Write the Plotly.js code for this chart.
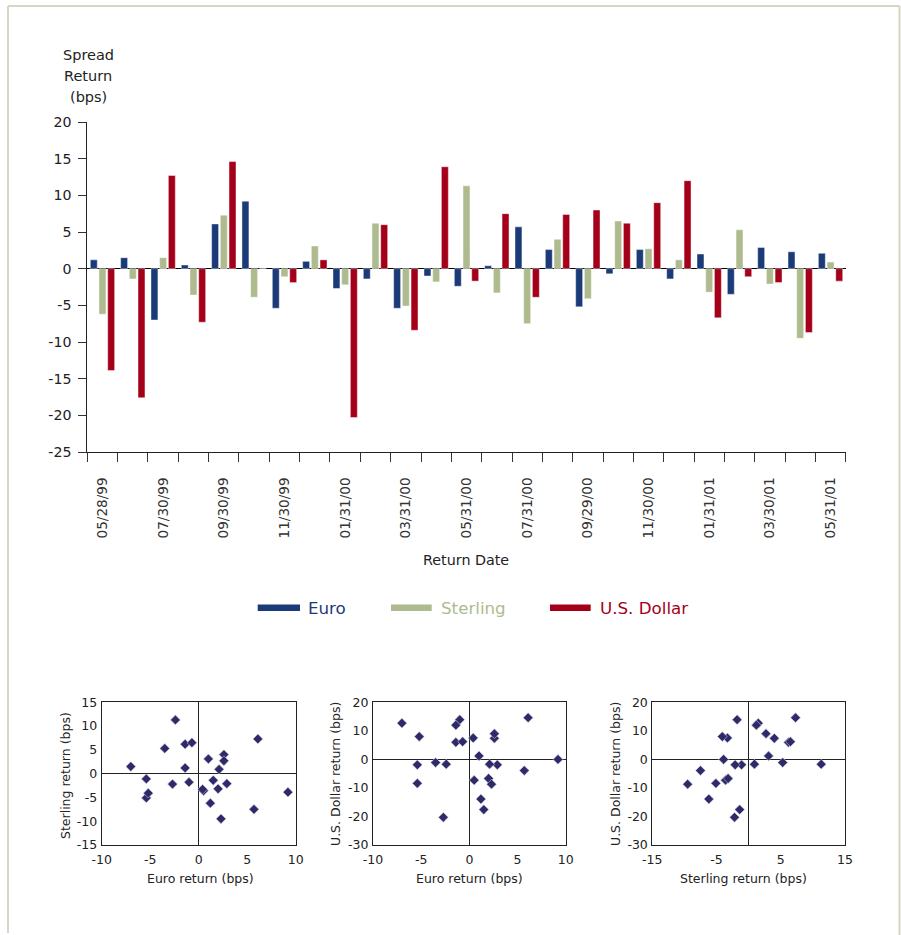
<!DOCTYPE html>
<html>
<head>
<meta charset="utf-8">
<script src="https://cdn.plot.ly/plotly-3.0.1.min.js"></script>
<style>
  html, body { margin: 0; padding: 0; background: #ffffff; }
  #chart { width: 901px; height: 935px; }
</style>
</head>
<body>
<div id="chart"></div>
<script>
// ---- data ----
const returnDates = ['05/28/99','06/30/99','07/30/99','08/31/99','09/30/99','10/29/99','11/30/99','12/31/99',
  '01/31/00','02/29/00','03/31/00','04/28/00','05/31/00','06/30/00','07/31/00','08/31/00','09/29/00','10/31/00',
  '11/30/00','12/29/00','01/31/01','02/28/01','03/30/01','04/30/01','05/31/01'];
const dateTickLabels = ['05/28/99','','07/30/99','','09/30/99','','11/30/99','',
  '01/31/00','','03/31/00','','05/31/00','','07/31/00','','09/29/00','',
  '11/30/00','','01/31/01','','03/30/01','','05/31/01'];
const euro     = [1.2, 1.5, -7.0, 0.5, 6.1, 9.2, -5.4, 1.0, -2.7, -1.4, -5.4, -1.0, -2.4, 0.4, 5.7, 2.6, -5.2, -0.7, 2.6, -1.4, 2.0, -3.5, 2.9, 2.3, 2.1];
const sterling = [-6.2, -1.4, 1.5, -3.6, 7.3, -3.9, -1.1, 3.1, -2.2, 6.2, -5.1, -1.8, 11.3, -3.3, -7.5, 4.0, -4.1, 6.5, 2.7, 1.2, -3.2, 5.3, -2.1, -9.5, 0.9];
const usDollar = [-13.9, -17.6, 12.7, -7.3, 14.6, 0.0, -1.9, 1.2, -20.3, 6.0, -8.4, 13.9, -1.7, 7.5, -3.9, 7.4, 8.0, 6.2, 9.0, 12.0, -6.7, -1.1, -1.9, -8.7, -1.7];
const seriesNames = ['Euro', 'Sterling', 'U.S. Dollar'];
// tick values and their labels (hyphen minus, as in the reference)
const mainYTicks = [20, 15, 10, 5, 0, -5, -10, -15, -20, -25];
const mainYLabels = ['20', '15', '10', '5', '0', '-5', '-10', '-15', '-20', '-25'];
const euroTicks = [-10, -5, 0, 5, 10];
const euroLabels = ['-10', '-5', '0', '5', '10'];
const sterlingYTicks = [15, 10, 5, 0, -5, -10, -15];
const sterlingYLabels = ['15', '10', '5', '0', '-5', '-10', '-15'];
const usdYTicks = [20, 10, 0, -10, -20, -30];
const usdYLabels = ['20', '10', '0', '-10', '-20', '-30'];
const sterlingXTicks = [-15, -5, 5, 15];
const sterlingXLabels = ['-15', '-5', '5', '15'];

// ---- styling ----
const W = 901, H = 935;
const FONT = 'DejaVu Sans, Liberation Sans, sans-serif';
const TXT = '#222222';
const cEuro = '#1b3a78', cSterling = '#adbb8f', cUSD = '#a50019', cDot = '#2e2a6a';
const px = v => v / W;           // pixel -> paper x
const py = v => 1 - v / H;       // pixel -> paper y

function barTrace(name, vals, color) {
  return {
    type: 'bar', name: name, x: returnDates, y: vals,
    xaxis: 'x', yaxis: 'y',
    marker: { color: color, line: { color: 'rgba(255,255,255,0.55)', width: 0.8 } },
    hoverinfo: 'x+y+name'
  };
}
function scatterTrace(xs, ys, xa, ya) {
  return {
    type: 'scatter', mode: 'markers', x: xs, y: ys, xaxis: xa, yaxis: ya,
    marker: { symbol: 'diamond', size: 7.5, color: cDot,
              line: { color: '#c9c9d6', width: 0.6 } },
    showlegend: false
  };
}

const data = [
  barTrace(seriesNames[0], euro, cEuro),
  barTrace(seriesNames[1], sterling, cSterling),
  barTrace(seriesNames[2], usDollar, cUSD),
  scatterTrace(euro, sterling, 'x2', 'y2'),
  scatterTrace(euro, usDollar, 'x3', 'y3'),
  scatterTrace(sterling, usDollar, 'x4', 'y4')
];

const scatterYDomain = [py(845), py(702.3)];
function sAxisX(domain, range, tickvals, ticktext, anchor) {
  return {
    domain: domain, range: range, anchor: anchor, tickvals: tickvals, ticktext: ticktext,
    showline: true, mirror: true, linecolor: '#222', linewidth: 1,
    zeroline: true, zerolinecolor: '#222', zerolinewidth: 1,
    showgrid: false, ticks: '', fixedrange: true,
    tickfont: { family: FONT, size: 12.5, color: TXT }, ticklabelstandoff: 3
  };
}
function sAxisY(range, tickvals, ticktext, anchor) {
  return {
    domain: scatterYDomain, range: range, anchor: anchor, tickvals: tickvals, ticktext: ticktext,
    showline: true, mirror: true, linecolor: '#222', linewidth: 1,
    zeroline: true, zerolinecolor: '#222', zerolinewidth: 1,
    showgrid: false, ticks: '', fixedrange: true,
    tickfont: { family: FONT, size: 12.5, color: TXT }, ticklabelstandoff: 1
  };
}

function ann(text, x, y, opts) {
  return Object.assign({
    text: text, x: px(x), y: py(y), xref: 'paper', yref: 'paper',
    showarrow: false, xanchor: 'center', yanchor: 'middle',
    font: { family: FONT, size: 14.3, color: TXT }
  }, opts || {});
}

const frameColor = '#d6d6c2';
const shapes = [
  { type: 'line', xref: 'paper', yref: 'paper', x0: px(8), x1: px(8), y0: py(933), y1: py(6), line: { color: frameColor, width: 2 } },
  { type: 'line', xref: 'paper', yref: 'paper', x0: px(8), x1: px(899.5), y0: py(6), y1: py(6), line: { color: frameColor, width: 2 } },
  { type: 'line', xref: 'paper', yref: 'paper', x0: px(899.5), x1: px(899.5), y0: py(6), y1: py(935), line: { color: frameColor, width: 2 } },
  // legend swatches
  { type: 'rect', xref: 'paper', yref: 'paper', x0: px(257.7), x1: px(300), y0: py(611), y1: py(604.5), fillcolor: cEuro, line: { width: 0 } },
  { type: 'rect', xref: 'paper', yref: 'paper', x0: px(391), x1: px(431.7), y0: py(611), y1: py(604.5), fillcolor: cSterling, line: { width: 0 } },
  { type: 'rect', xref: 'paper', yref: 'paper', x0: px(550), x1: px(590.7), y0: py(611), y1: py(604.5), fillcolor: cUSD, line: { width: 0 } }
];

const annotations = [
  ann('Spread', 88, 55.5, { font: { family: FONT, size: 14.5, color: TXT } }),
  ann('Return', 88, 76, { font: { family: FONT, size: 14.5, color: TXT } }),
  ann('(bps)', 88, 97, { font: { family: FONT, size: 14.5, color: TXT } }),
  ann('Return Date', 466, 560),
  ann(seriesNames[0], 306, 607.5, { xanchor: 'left', font: { family: FONT, size: 16.7, color: cEuro } }),
  ann(seriesNames[1], 438.5, 607.5, { xanchor: 'left', font: { family: FONT, size: 16.7, color: cSterling } }),
  ann(seriesNames[2], 597.5, 607.5, { xanchor: 'left', font: { family: FONT, size: 16.7, color: cUSD } }),
  ann('Euro return (bps)', 200, 878.5, { font: { family: FONT, size: 12.5, color: TXT } }),
  ann('Euro return (bps)', 469, 878.5, { font: { family: FONT, size: 12.5, color: TXT } }),
  ann('Sterling return (bps)', 743, 878.5, { font: { family: FONT, size: 12.5, color: TXT } }),
  ann('Sterling return (bps)', 65, 776, { textangle: -90, font: { family: FONT, size: 12.5, color: TXT } }),
  ann('U.S. Dollar return (bps)', 335, 774, { textangle: -90, font: { family: FONT, size: 12.5, color: TXT } }),
  ann('U.S. Dollar return (bps)', 615, 774, { textangle: -90, font: { family: FONT, size: 12.5, color: TXT } })
];

const layout = {
  width: W, height: H, autosize: false,
  margin: { l: 0, r: 0, t: 0, b: 0, pad: 0 },
  paper_bgcolor: '#ffffff', plot_bgcolor: 'rgba(0,0,0,0)',
  showlegend: false,
  barmode: 'group', bargap: 0.14, bargroupgap: 0.2,
  font: { family: FONT, color: TXT },
  xaxis: {
    domain: [px(87.3), px(845.7)], anchor: 'y', type: 'category',
    categoryorder: 'array', categoryarray: returnDates,
    tickvals: returnDates, ticktext: dateTickLabels,
    tickson: 'boundaries', ticks: 'outside', ticklen: 9, tickcolor: '#333', tickwidth: 1,
    showline: true, linecolor: '#222', linewidth: 1, showgrid: false, zeroline: false,
    tickangle: -90, tickfont: { family: FONT, size: 13.6, color: '#333' },
    ticklabelstandoff: 19, fixedrange: true
  },
  yaxis: {
    domain: [py(452), py(122)], anchor: 'x', range: [-25, 20],
    tickvals: mainYTicks, ticktext: mainYLabels,
    ticks: 'outside', ticklen: 8, tickcolor: '#333', tickwidth: 1,
    showline: true, linecolor: '#222', linewidth: 1, showgrid: false,
    zeroline: true, zerolinecolor: '#000', zerolinewidth: 1.6,
    tickfont: { family: FONT, size: 14.2, color: TXT }, ticklabelstandoff: 4, fixedrange: true
  },
  xaxis2: sAxisX([px(101.7), px(295.7)], [-10, 10], euroTicks, euroLabels, 'y2'),
  yaxis2: sAxisY([-15, 15], sterlingYTicks, sterlingYLabels, 'x2'),
  xaxis3: sAxisX([px(373), px(565.7)], [-10, 10], euroTicks, euroLabels, 'y3'),
  yaxis3: sAxisY([-30, 20], usdYTicks, usdYLabels, 'x3'),
  xaxis4: sAxisX([px(652.3), px(845)], [-15, 15], sterlingXTicks, sterlingXLabels, 'y4'),
  yaxis4: sAxisY([-30, 20], usdYTicks, usdYLabels, 'x4'),
  shapes: shapes,
  annotations: annotations
};

Plotly.newPlot('chart', data, layout, { displayModeBar: false, staticPlot: true });
</script>
</body>
</html>
